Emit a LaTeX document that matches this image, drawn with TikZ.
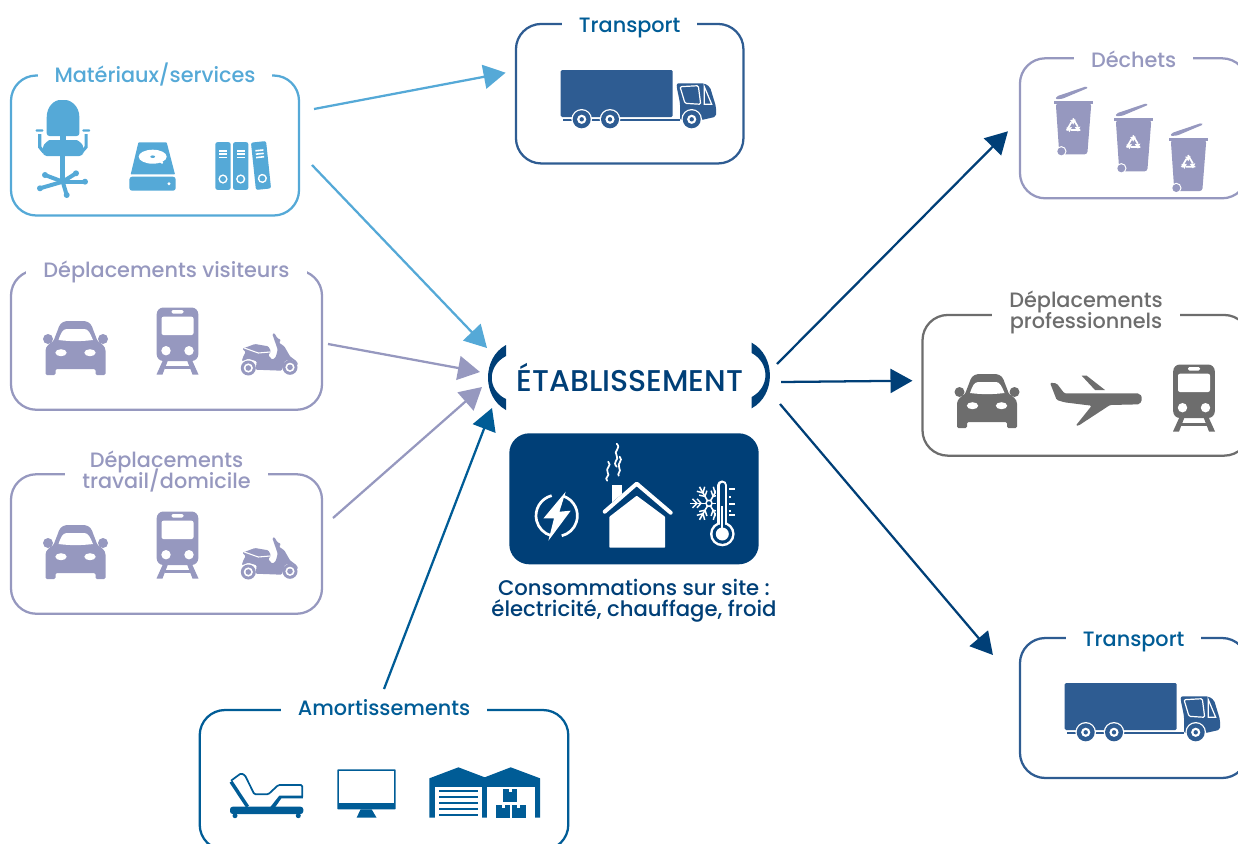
\documentclass[tikz,border=0pt]{standalone}
\usepackage{fontspec}
\setmainfont{Poppins Medium}
\usetikzlibrary{arrows.meta,calc}

\definecolor{skyblue}{HTML}{55A9D7}
\definecolor{lilac}{HTML}{9698BF}
\definecolor{midblue}{HTML}{005C96}
\definecolor{darkblue}{HTML}{003F77}
\definecolor{truckblue}{HTML}{2E5C92}
\definecolor{slategray}{HTML}{6D6D6D}

\def\px{0.75pt}
\lineskiplimit=-20pt
\normallineskiplimit=-20pt

\tikzset{
  % the vehicles
  pics/car/.style={code={
    \fill[rounded corners=1pt] (-30,27) -- (-30,4) .. controls (-30,-2) and (-25,-5) .. (-22,-7) -- (-17,-20)
      .. controls (-15,-26) and (-10,-27) .. (-6,-27) -- (6,-27) .. controls (10,-27) and (15,-26) .. (17,-20)
      -- (22,-7) .. controls (25,-5) and (30,-2) .. (30,4) -- (30,27) -- (20,27) -- (20,21) -- (-20,21) -- (-20,27) -- cycle;
    \fill (-27.5,-9) circle (5);
    \fill (27.5,-9) circle (5);
    \fill[white] (-17,-8) .. controls (-15,-14) and (-13,-19) .. (-9,-19) -- (9,-19)
      .. controls (13,-19) and (15,-14) .. (17.5,-8) .. controls (5,-6.5) and (-5,-6.5) .. (-17,-8) -- cycle;
    \fill[white] (-14.5,4.7) ellipse (5.7 and 3.5);
    \fill[white] (14.5,4.7) ellipse (5.7 and 3.5);
  }},
  pics/train/.style={code={
    \fill[rounded corners=5pt] (-20.8,-33.5) rectangle (20.8,20);
    \fill (-14,18) -- (-21,33.5) -- (-15,33.5) -- (-9,18) -- cycle;
    \fill (14,18) -- (21,33.5) -- (15,33.5) -- (9,18) -- cycle;
    \fill (-13,25) rectangle (13,28);
    \fill[white,rounded corners=1.5pt] (-16,-24.3) rectangle (16,-6);
    \fill[white,rounded corners=1pt] (-6,-31) rectangle (6,-27.5);
    \fill[white] (-11.5,9.7) circle (4.7);
    \fill[white] (11.5,9.7) circle (4.7);
  }},
  pics/scooter/.style={code={
    \fill (-21.2,14.5) circle (7.5);
    \fill (20.5,13.8) circle (7.5);
    \fill[white] (-21.2,14.5) circle (4.6);
    \fill[white] (20.5,13.8) circle (4.6);
    \fill (-21.2,14.5) circle (2.8);
    \fill (20.5,13.8) circle (2.8);
    \fill[rounded corners=0.8pt] (-27.2,-4.8) -- (-14.5,-9.5) -- (-1.2,-7.2) -- (1.5,-2.2) -- (-1.2,1.8) -- (2.8,6.2) -- (6.2,3.8)
      -- (8.2,-3.8) -- (4.8,-13.8) -- (2.8,-19.5) -- (4.8,-20.5) -- (7.8,-15.5) -- (11.5,-13.5) -- (9.5,-10.8) -- (14.8,-7.2)
      -- (20.5,2.8) -- (27.2,7.8) -- (28.8,11.8) -- (22.2,6.2) -- (15.5,7.2) -- (12.2,17.2) -- (-13.8,16.2) -- (-12.8,7.8)
      -- (-21.2,5.2) -- (-27.8,7.8) -- (-26.2,2.8) -- (-23.8,-1.5) -- cycle;
    \draw[white,line width=0.8pt] (-25.2,-5.5) -- (-11.2,-0.5) -- (0.5,-1.5);
  }},
  pics/plane/.style={code={
    \fill[rounded corners=1pt] (-46.7,-19) -- (-40,-18.3) -- (-32.3,-8.3) -- (40,-8.3) .. controls (44,-8) and (45,-5) .. (45,-3)
      .. controls (45,0) and (43,2.5) .. (40,2.7) -- (13.3,3.3) -- (-18.3,24) -- (-21,24) -- (-5,4) -- (-31.7,0.7) -- (-40,-1.7) -- cycle;
    \fill (-15,-26) -- (-10,-26) -- (8.3,-11.7) -- (-1.7,-11.7) -- cycle;
  }},
  pics/truck/.style={code={
    \fill[rounded corners=1pt] (0.7,0) rectangle (112.7,47);
    \fill (3,49) rectangle (120,51);
    \fill[rounded corners=1.5pt] (116.7,13.3) -- (144.3,13.3) -- (150,17) -- (156,36.7) -- (156,46.7) -- (141.7,50) -- (120,50) -- (120,33) -- (116.7,17) -- cycle;
    \draw[white,line width=0.9pt,rounded corners=1pt] (120,16.7) -- (138.3,15.7) -- (140.7,34.3) -- (125,33.3) -- cycle;
    \draw[white,line width=0.9pt] (144.3,16.7) -- (151.7,34.3) -- (144.3,34.3) -- cycle;
    \foreach \x in {21.7,50,131.7} {
      \fill[white] (\x,49.3) circle (10.3);
      \fill (\x,49.3) circle (9);
      \fill[white] (\x,49.3) circle (4.6);
      \fill (\x,49.3) circle (2.2);
    }
  }},
  % the waste bin
  pics/bin/.style={code={
    \fill[rounded corners=1pt] (-18,-3) -- (-16.5,-6) -- (13,-16) -- (15,-14.5) -- (-11,-3.5) -- cycle;
    \fill (-19.3,-1.5) rectangle (20,1.8);
    \fill[rounded corners=2pt] (-17.5,1) -- (-14,52) -- (14,52) -- (18,1) -- cycle;
    \fill[white] (-12,49) circle (5.2);
    \fill (-12,49) circle (4);
    \foreach \a in {0,120,240} {
      \begin{scope}[shift={(0,24)},rotate=\a,scale=1.2]
        \draw[white,line width=1.3pt] (-5.5,3.5) -- (-1.6,-3.4);
        \fill[white] (-2.6,-5.2) -- (2,-5.6) -- (0,-1.4) -- cycle;
      \end{scope}
    }
  }},
  % the purchases
  pics/chair/.style={code={
    \fill[rounded corners=2pt] (-16,-4) -- (-16,-20) .. controls (-16,-34) and (-8,-40) .. (0,-40)
      .. controls (8,-40) and (16.7,-34) .. (16.7,-20) -- (16.7,-4) -- cycle;
    \fill (-2.7,-5) rectangle (3,2);
    \fill[rounded corners=3pt] (-20,16) -- (-20,10) .. controls (-19,4) and (-14,0) .. (-9,0) -- (10,0)
      .. controls (15,0) and (20,4) .. (20.7,10) -- (20.7,16) -- cycle;
    \fill[rounded corners=0.7pt] (-27,-10.7) rectangle (-19.3,-8.3);
    \fill[rounded corners=0.7pt] (19.7,-10.7) rectangle (27.3,-8.3);
    \draw[line width=2.4pt] (-23,-6) -- (-23,7) -- (-19,12);
    \draw[line width=2.4pt] (23.4,-6) -- (23.4,7) -- (19,12);
    \fill (-2.7,15) rectangle (2.7,42);
    \foreach \x/\y in {-17.7/35,-22.7/48.3,4/55,22.3/41.7,13.3/33.3} {
      \draw[line width=3pt] (0,41.7) -- (\x,\y);
      \fill (\x,\y) circle (3);
    }
  }},
  pics/harddisk/.style={code={
    \fill[rounded corners=0.5pt] (-14.3,-24.3) -- (14,-24.3) -- (22.3,7.7) -- (-22,7.7) -- cycle;
    \fill[rounded corners=2pt] (-23.3,10) rectangle (23,24);
    \fill[white] (16.3,17) circle (1.7);
    \fill[white] (0,-10) ellipse (14 and 7);
    \fill (0,-10) ellipse (2.4 and 1.3);
    \draw[white,line width=1.4pt] (3,-8) -- (10,-3.6);
  }},
  pics/binder/.style={code={
    \fill[rounded corners=1.5pt] (-7.6,-23.8) rectangle (7.6,23.8);
    \foreach \y in {-16,-12.6,-9.2}
      \fill[white] (-4,\y) rectangle (4,\y+1.6);
    \fill[white] (0,13) circle (4.6);
    \fill (0,13) circle (3);
  }},
  % the fixed assets
  pics/bed/.style={code={
    \fill[rounded corners=2pt] (-36.3,11.7) rectangle (37,19);
    \fill (-31.3,20.7) circle (2.5);
    \fill (32,20.7) circle (2.5);
    \draw[line width=2.6pt] (-35.3,-13.3) -- (-18.7,11.7);
    \draw[line width=1.3pt,rounded corners=1pt] (-35.3,-14.3) -- (-25.3,-21.7) -- (-21.3,-19.7) -- (-12,-0.7) -- (2,-0.7) -- (12,-10) -- (36,-10) -- (36,2);
    \fill (4,12) -- (13,0.7) -- (36.6,0.7) -- (36.6,3.4) -- (15,3.4) -- (9,12) -- cycle;
  }},
  pics/screen/.style={code={
    \fill[rounded corners=0.5pt] (-29,-20.7) rectangle (29.3,19.3);
    \fill[white] (-27,-18.7) rectangle (27.3,13.3);
    \fill (-5.7,19.3) -- (5.3,19.3) -- (10.3,27.7) -- (-9.7,27.7) -- cycle;
  }},
  pics/warehouse/.style={code={
    \fill (-55.3,-11.7) -- (-26.3,-22.7) -- (0,-12.7) -- (26,-22.7) -- (55.3,-11.7) -- (55.3,27.7) -- (-55.3,27.7) -- cycle;
    \fill[white] (-49.7,-3.3) rectangle (-2.3,27.7);
    \fill[white] (2.7,-3.3) rectangle (50.3,27.7);
    \foreach \y in {0,6,12,18,24}
      \fill (-45.3,\y) rectangle (-6.3,\y+1.8);
    \foreach \x/\y in {18.7/-1,11.7/15,27/15} {
      \fill (\x,\y) rectangle (\x+14,\y+13);
      \fill[white] (\x+5.5,\y) rectangle (\x+8.5,\y+3);
    }
  }},
  % the on-site consumption
  pics/powerbolt/.style={code={
    \draw[line width=2pt] (256:20.7) arc (256:106:20.7);
    \draw[line width=2pt] (-72:20.7) arc (-72:76:20.7);
    \fill (9,-24) -- (-13.3,2.7) -- (-2.7,2.7) -- (-8.3,25) -- (14,-5) -- (2.7,-4) -- cycle;
  }},
  pics/home/.style={code={
    \fill (-25,-32) rectangle (-15,-14);
    \fill[darkblue] (-32,-8) -- (0,-35) -- (32,-8) -- (32,-2) -- (-32,-2) -- cycle;
    \draw[line width=3pt,line cap=round,line join=round] (-32,-5) -- (0,-33) -- (34,-4);
    \fill[rounded corners=0.5pt] (-27.3,0) -- (0,-21) -- (28.3,0) -- (28.3,31) -- (-27.3,31) -- cycle;
    \draw[line width=1.3pt,line cap=round] (-20,-73) .. controls (-15,-68) and (-24,-66) .. (-20,-61) .. controls (-17,-57) and (-25,-55) .. (-20,-50);
    \draw[line width=1.3pt,line cap=round] (-28.5,-55) .. controls (-24,-51) and (-32,-49) .. (-29,-44) .. controls (-26,-41) and (-33,-39) .. (-29.5,-36);
    \draw[line width=1.3pt,line cap=round] (-17,-60) .. controls (-13,-56) and (-20,-54) .. (-17.5,-49) .. controls (-15,-45) and (-20,-43) .. (-18,-41);
  }},
  pics/frostgauge/.style={code={
    % the snowflake
    \begin{scope}[shift={(-4.3,-10)}]
      \foreach \a in {0,60,...,300} {
        \begin{scope}[rotate=\a]
          \draw[line width=1.2pt] (3,0) -- (19,0);
          \draw[line width=1.1pt] (8,0) -- (12,-4.5) (8,0) -- (12,4.5);
          \draw[line width=1.1pt] (12,0) -- (16.5,-4.5) (12,0) -- (16.5,4.5);
        \end{scope}
      }
      \draw[line width=1.1pt] (0,0) circle (3);
    \end{scope}
    % the thermometer
    \draw[darkblue,line width=9.75pt,line cap=round] (9,-28) -- (9,18);
    \fill[darkblue] (9,20.7) circle (15);
    \draw[line width=7.3pt,line cap=round] (9,-28) -- (9,18);
    \fill (9,20.7) circle (12.3);
    \draw[darkblue,line width=3.75pt,line cap=round] (9,-28) -- (9,18);
    \fill[darkblue] (9,20.7) circle (9.8);
    \fill (9,20.7) circle (6.5);
    \draw[line width=1.7pt] (9,-7) -- (9,20);
    \foreach \y/\w in {-24/21.7,-16/18,-9/21.7,-2/18,2/21.7}
      \draw[line width=1.5pt] (16,\y) -- (\w,\y);
  }},
}

\begin{document}
\begin{tikzpicture}[x=0.75pt, y=-0.75pt, >=stealth,
    framebox/.style={draw=#1, line width=1.7pt, rounded corners=19pt, inner sep=0pt, outer sep=0pt},
    title/.style={fill=white, text=#1, inner xsep=12.75pt, inner ysep=1pt, align=center,
      font=\fontsize{15.6}{15.75}\selectfont},
    flow/.style={draw=#1, -{Triangle[length=16.5pt,width=18pt]}, line width=1.7pt}]
  \useasboundingbox (0,0) rectangle (1238,843);
  \clip (0,0) rectangle (1238,843);

  % The frames, left column.
  \node[framebox=skyblue, minimum width=288*\px, minimum height=140*\px] (matbox) at (155,145.5) {};
  \node[framebox=lilac, minimum width=311*\px, minimum height=139.5*\px] (visbox) at (166.5,340) {};
  \node[framebox=lilac, minimum width=311*\px, minimum height=139.5*\px] (dombox) at (166.5,544) {};
  \node[framebox=midblue, minimum width=368.6*\px, minimum height=140*\px] (amobox) at (384,780) {};
  % The frames, top and right.
  \node[framebox=truckblue, minimum width=227.5*\px, minimum height=139.5*\px] (upbox) at (629.7,93.7) {};
  \node[framebox=lilac, minimum width=227.5*\px, minimum height=140*\px] (wastebox) at (1133.7,128.3) {};
  \node[framebox=slategray, minimum width=327*\px, minimum height=140.7*\px] (probox) at (1086,385.3) {};
  \node[framebox=truckblue, minimum width=227.5*\px, minimum height=140*\px] (downbox) at (1133.7,708) {};

  % The frame titles.
  \node[title=skyblue] (mattitle) at ($(matbox.north)+(0,-1)$) {Matériaux/services};
  \node[title=lilac] (vistitle) at ($(visbox.north)+(0,2)$) {Déplacements visiteurs};
  \node[title=lilac] (domtitle) at ($(dombox.north)+(0,-3)$) {Déplacements\\travail/domicile};
  \node[title=midblue] (amotitle) at ($(amobox.north)+(0,-2)$) {Amortissements};
  \node[title=midblue] (uptitle) at ($(upbox.north)+(0,4)$) {Transport};
  \node[title=lilac] (wastetitle) at ($(wastebox.north)+(0,1)$) {Déchets};
  \node[title=slategray] (protitle) at ($(probox.north)+(0,-3)$) {Déplacements\\professionnels};
  \node[title=midblue] (downtitle) at ($(downbox.north)+(0,4)$) {Transport};

  % Icons of the frames.
  \pic[color=skyblue] at (62.7,140) {chair};
  \pic[color=skyblue] at (152.7,166.7) {harddisk};
  \foreach \x/\y/\r in {223/166/0,240.7/166/0,261/165.5/6}
    \pic[color=skyblue, rotate=\r] at (\x,\y) {binder};
  \foreach \y in {0,204} {
    \pic[color=lilac] at (75.5,348+\y) {car};
    \pic[color=lilac] at (177.5,341+\y) {train};
    \pic[color=lilac] at (269.5,353.5+\y) {scooter};
  }
  \pic[color=midblue] at (266.3,795) {bed};
  \pic[color=midblue] at (366.3,790) {screen};
  \pic[color=midblue] at (484.7,790) {warehouse};
  \pic[color=truckblue] at (560,70) {truck};
  \pic[color=truckblue] at (1064,683) {truck};
  \foreach \x/\y in {1073.3/102.3,1133.3/119.3,1188.3/139}
    \pic[color=lilac] at (\x,\y) {bin};
  \pic[color=slategray] at (987,401) {car};
  \pic[color=slategray] at (1096.7,401.7) {plane};
  \pic[color=slategray] at (1194,398) {train};

  % The centre.
  \node[text=darkblue, font=\fontsize{22.5}{24}\selectfont, inner sep=0pt] (etab) at (630,377) {ÉTABLISSEMENT};
  \fill[darkblue] (506,345) .. controls (482,358) and (482,397) .. (506,410) -- (506,399) .. controls (487,390) and (487,366) .. (506,356) -- cycle;
  \fill[darkblue] (751.7,342.7) .. controls (776,356) and (776,395) .. (751.7,408.3) -- (751.7,397) .. controls (770,387) and (770,363) .. (751.7,353) -- cycle;
  \node[fill=darkblue, rounded corners=15pt, minimum width=249.4*\px, minimum height=131*\px, inner sep=0pt] (sitebox) at (634,498.8) {};
  \pic[color=white] at (556.7,515.7) {powerbolt};
  \pic[color=white] at (636.7,516.7) {home};
  \pic[color=white] at (713.3,513.3) {frostgauge};
  \node[text=darkblue, align=center, inner sep=0pt, font=\fontsize{15.9}{15.75}\selectfont] (sitetext) at (634,601) {Consommations sur site :\\électricité, chauffage, froid};

  % Free ends of the arrows.
  \coordinate (matup) at ($(matbox.east)+(15,-36.5)$);
  \coordinate (matdown) at ($(matbox.east)+(13,19.5)$);
  \coordinate (visout) at ($(visbox.east)+(6,4)$);
  \coordinate (domout) at ($(dombox.east)+(11,-26)$);
  \coordinate (amoout) at ($(amobox.north)+(0,-21)$);
  \coordinate (upin) at ($(upbox.west)+(-10.3,-21)$);
  \coordinate (etabsky) at ($(etab)+(-143,-29)$);
  \coordinate (etabvis) at ($(etab)+(-150,-5)$);
  \coordinate (etabdom) at ($(etab)+(-148,10)$);
  \coordinate (etabamo) at ($(etab)+(-138,31)$);
  \coordinate (etabne) at ($(etab)+(147,-13)$);
  \coordinate (etabe) at ($(etab)+(151,5)$);
  \coordinate (etabse) at ($(etab)+(150,27)$);
  \coordinate (wastein) at ($(wastebox.west)+(-12,3)$);
  \coordinate (proin) at ($(probox.west)+(-10,-4.6)$);
  \coordinate (downin) at ($(downbox.north west)+(-27,17)$);

  % The arrows.
  \draw[flow=skyblue] (matup) -- (upin);
  \draw[flow=skyblue] (matdown) -- (etabsky);
  \draw[flow=lilac] (visout) -- (etabvis);
  \draw[flow=lilac] (domout) -- (etabdom);
  \draw[flow=midblue] (amoout) -- (etabamo);
  \draw[flow=darkblue] (etabne) -- (wastein);
  \draw[flow=darkblue] (etabe) -- (proin);
  \draw[flow=darkblue] (etabse) -- (downin);
\end{tikzpicture}
\end{document}
